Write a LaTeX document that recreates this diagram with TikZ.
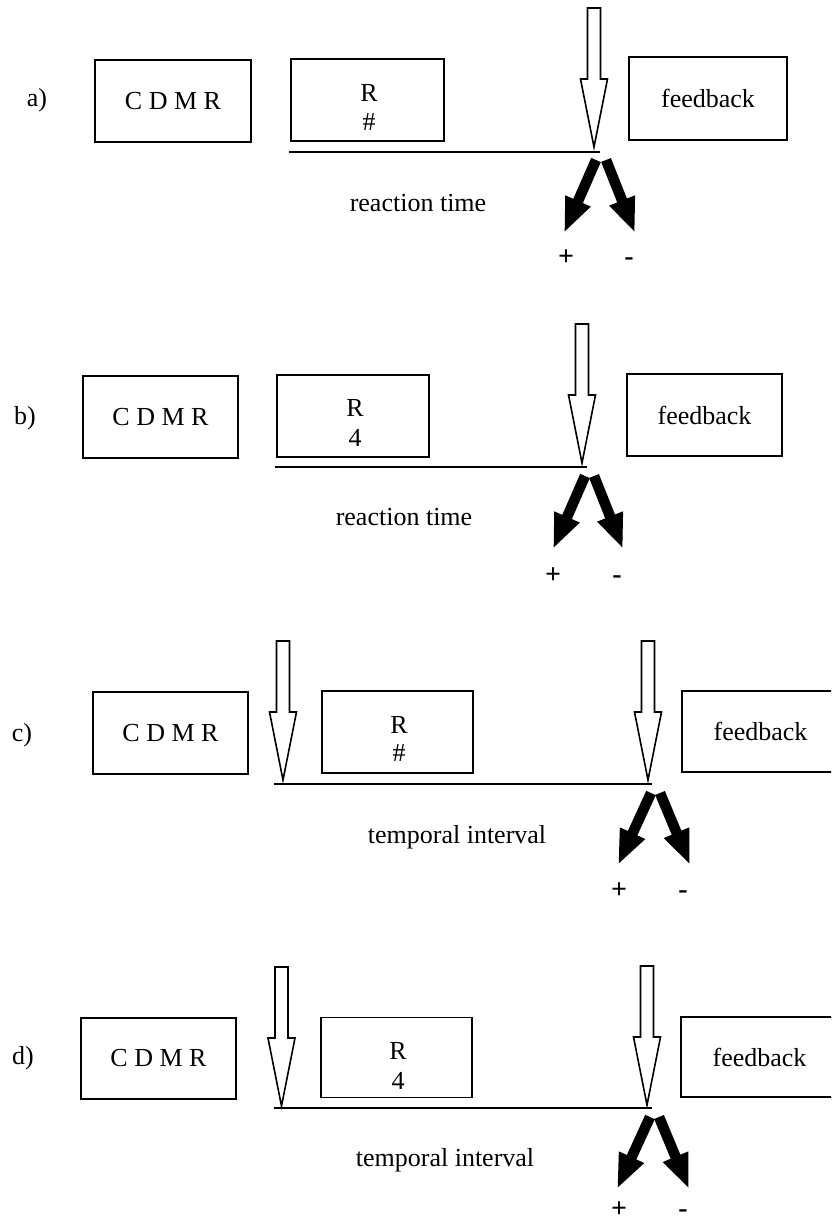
\documentclass[tikz,border=0pt]{standalone}
\usepackage{fontspec}
\setmainfont{Liberation Serif}
\usetikzlibrary{arrows.meta}
\begin{document}
\begin{tikzpicture}[x=1pt,y=-1pt,
  frame/.style={draw, line width=1.8pt, inner sep=0pt, font=\fontsize{26}{30}\selectfont},
  txt/.style={inner sep=0pt, font=\fontsize{26}{30}\selectfont},
  sign/.style={inner sep=0pt, anchor=base, font=\fontsize{28}{30}\selectfont\bfseries},
  timeline/.style={line width=1.9pt},
  solidarrow/.style={line width=10.5pt, -{Triangle[length=35pt,width=25pt]}},
  hollow/.style={draw, fill=white, line width=1.6pt, line join=miter},
  cue/.pic={
    \draw[hollow] (-6.5,0) -- (6.5,0) -- (6.5,71) -- (13.5,71) -- (0,139)
      -- (-13.5,71) -- (-6.5,71) -- cycle;
    \coordinate (-tip) at (0,139);
  },
]
\clip (0,0) rectangle (831,1223);
\fill[white] (0,0) rectangle (831,1223);

% ---------------- a) ----------------
\node[txt] (lblA) at (37,100) {a)};
\node[frame, minimum width=156pt, minimum height=82pt] (cdmrA) at (173,101) {C D M R};
\node[frame, minimum width=153pt, minimum height=82pt] (respA) at (367.5,100) {};
\node[txt, anchor=base] (rA) at (369,101) {R};
\node[txt, anchor=base] (symA) at (369,130) {\#};
\node[frame, minimum width=158pt, minimum height=83pt] (fbA) at (708,98.5) {feedback};
\pic (cueA) at (594,8) {cue};
\coordinate (tA0) at (289,152);
\coordinate (tA1) at (600,152);
\draw[timeline] (tA0) -- (tA1);
\node[txt] (rtA) at (418,203) {reaction time};
\coordinate (pA0) at (596,160); \coordinate (pA1) at (564,233);
\coordinate (mA0) at (606,160); \coordinate (mA1) at (635,233);
\draw[solidarrow] (pA0) -- (pA1);
\draw[solidarrow] (mA0) -- (mA1);
\node[sign] (plusA) at (566,265) {+};
\node[sign] (minusA) at (629,265) {-};

% ---------------- b) ----------------
\node[txt] (lblB) at (25,418) {b)};
\node[frame, minimum width=155pt, minimum height=82pt] (cdmrB) at (160.5,417) {C D M R};
\node[frame, minimum width=152pt, minimum height=82pt] (respB) at (353,416) {};
\node[txt, anchor=base] (rB) at (355,416) {R};
\node[txt, anchor=base] (symB) at (355,446) {4};
\node[frame, minimum width=155pt, minimum height=82pt] (fbB) at (704.5,415) {feedback};
\pic (cueB) at (582,324) {cue};
\coordinate (tB0) at (275,467);
\coordinate (tB1) at (587,467);
\draw[timeline] (tB0) -- (tB1);
\node[txt] (rtB) at (404,517) {reaction time};
\coordinate (pB0) at (585,476); \coordinate (pB1) at (553,549);
\coordinate (mB0) at (594,476); \coordinate (mB1) at (623,549);
\draw[solidarrow] (pB0) -- (pB1);
\draw[solidarrow] (mB0) -- (mB1);
\node[sign] (plusB) at (553,583) {+};
\node[sign] (minusB) at (617,583) {-};

% ---------------- c) ----------------
\node[txt] (lblC) at (22,735) {c)};
\node[frame, minimum width=155pt, minimum height=82pt] (cdmrC) at (170.5,733) {C D M R};
\node[frame, minimum width=151pt, minimum height=82pt] (respC) at (397.5,732) {};
\node[txt, anchor=base] (rC) at (399,733) {R};
\node[txt, anchor=base] (symC) at (399,761) {\#};
\node[frame, minimum width=157pt, minimum height=81pt] (fbC) at (760.5,731.5) {feedback};
\pic (cueC1) at (283,641) {cue};
\pic (cueC2) at (648,641) {cue};
\coordinate (tC0) at (274,784);
\coordinate (tC1) at (652,784);
\draw[timeline] (tC0) -- (tC1);
\node[txt] (tiC) at (457,837) {temporal interval};
\coordinate (pC0) at (651,793); \coordinate (pC1) at (618,865);
\coordinate (mC0) at (660,793); \coordinate (mC1) at (690,865);
\draw[solidarrow] (pC0) -- (pC1);
\draw[solidarrow] (mC0) -- (mC1);
\node[sign] (plusC) at (619,898) {+};
\node[sign] (minusC) at (683,898) {-};

% ---------------- d) ----------------
\node[txt] (lblD) at (23,1058) {d)};
\node[frame, minimum width=155pt, minimum height=81pt] (cdmrD) at (158.5,1058.5) {C D M R};
\node[frame, minimum width=151pt, minimum height=80pt] (respD) at (396.5,1057.5) {};
\node[txt, anchor=base] (rD) at (398,1059) {R};
\node[txt, anchor=base] (symD) at (398,1089) {4};
\node[frame, minimum width=157pt, minimum height=80pt] (fbD) at (759.5,1057) {feedback};
\pic (cueD1) at (281.5,967) {cue};
\pic (cueD2) at (647,966) {cue};
\coordinate (tD0) at (274,1108);
\coordinate (tD1) at (652,1108);
\draw[timeline] (tD0) -- (tD1);
\node[txt] (tiD) at (445,1160) {temporal interval};
\coordinate (pD0) at (650,1117); \coordinate (pD1) at (617,1189);
\coordinate (mD0) at (659,1117); \coordinate (mD1) at (689,1189);
\draw[solidarrow] (pD0) -- (pD1);
\draw[solidarrow] (mD0) -- (mD1);
\node[sign] (plusD) at (619,1217) {+};
\node[sign] (minusD) at (683,1217) {-};
\end{tikzpicture}
\end{document}
